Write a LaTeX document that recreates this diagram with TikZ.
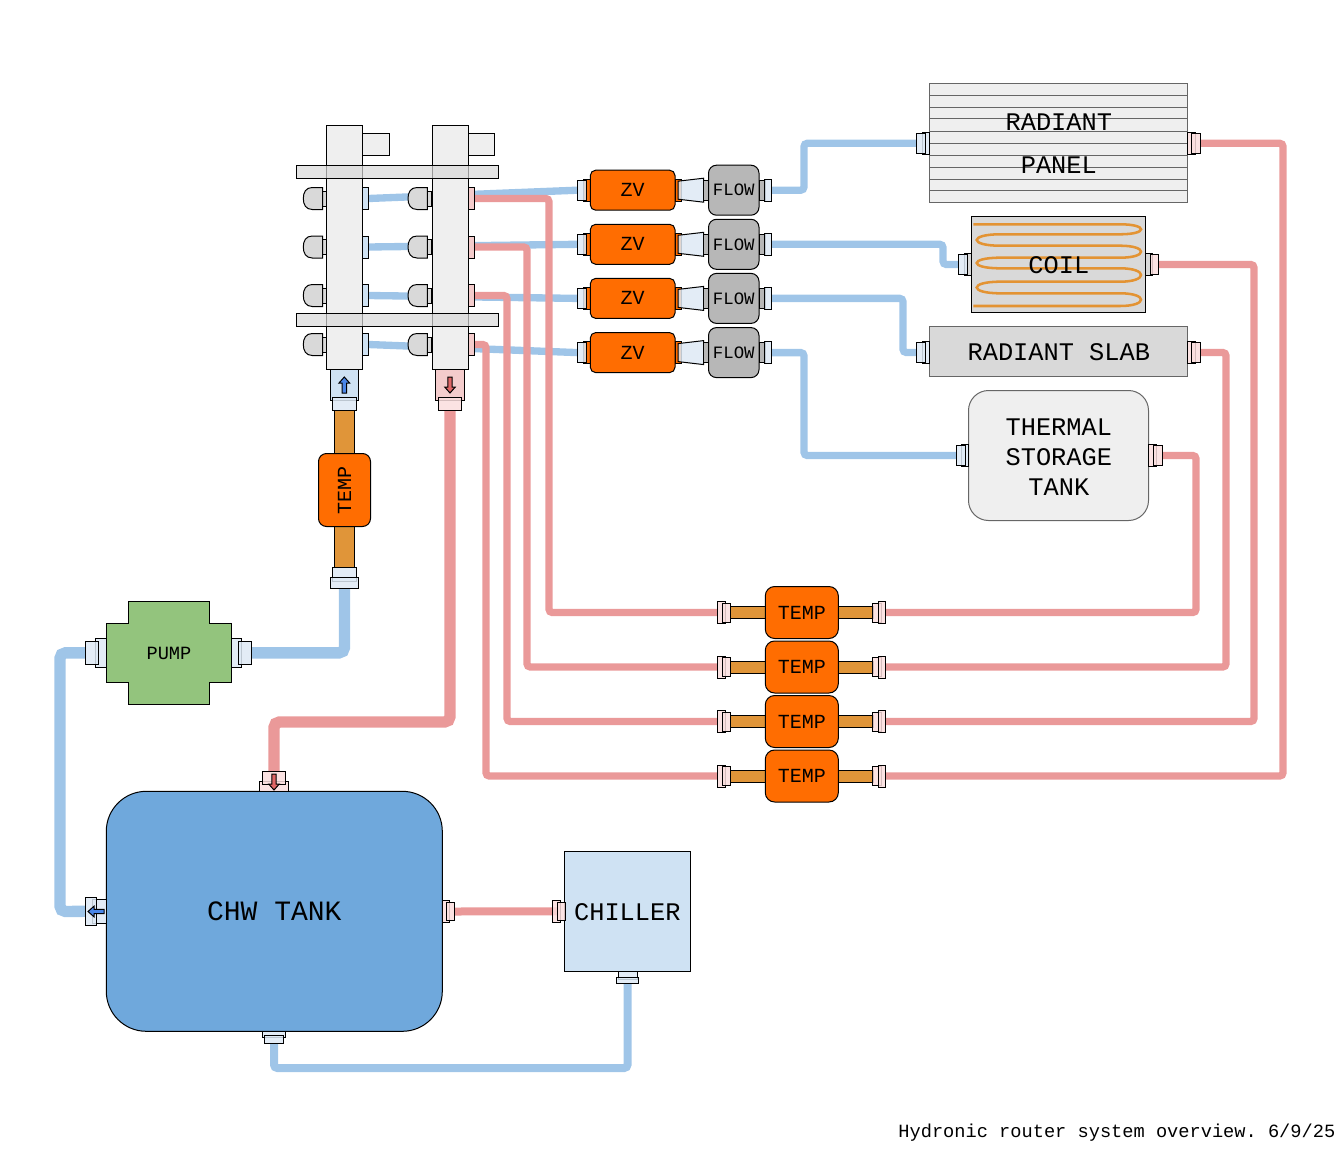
\documentclass[tikz,border=0pt]{standalone}
\usepackage{fontspec}
\setmainfont{Liberation Mono}
\usepackage{xcolor}
\usetikzlibrary{backgrounds}
\definecolor{pipeblue}{HTML}{9FC5E8}
\definecolor{pipered}{HTML}{EA9999}
\definecolor{pipebrown}{HTML}{E09539}
\definecolor{valveor}{HTML}{FF6D01}
\definecolor{tankblue}{HTML}{6FA8DC}
\definecolor{paleblue}{HTML}{CFE2F3}
\definecolor{fitblue}{HTML}{DEE9F5}
\definecolor{palered}{HTML}{F4CCCC}
\definecolor{fitred}{HTML}{FADEDE}
\definecolor{pumpgreen}{HTML}{93C47D}
\definecolor{light}{HTML}{EFEFEF}
\definecolor{midgray}{HTML}{D9D9D9}
\definecolor{flowgray}{HTML}{B7B7B7}
\definecolor{arrowblue}{HTML}{4A86E8}
\definecolor{arrowred}{HTML}{E06666}
\tikzset{
  part/.style={draw=black, line width=0.75pt, inner sep=0pt, outer sep=0pt, rectangle},
  fitb/.style={part, fill=fitblue, fill opacity=0.85},
  fitr/.style={part, fill=fitred, fill opacity=0.85},
  stubg/.style={part, fill=midgray},
  stubf/.style={part, fill=flowgray},
  stubo/.style={part, fill=pipebrown},
  valve/.style={part, fill=valveor, rounded corners=4pt, font=\fontsize{15}{18}\selectfont},
  flowbox/.style={part, fill=flowgray, rounded corners=6pt, font=\fontsize{13}{16}\selectfont},
  tempbox/.style={part, fill=valveor, rounded corners=7pt, font=\fontsize{15}{18}\selectfont},
  grayedge/.style={draw=black!60},
  big/.style={align=center, font=\fontsize{19}{22.5}\selectfont},
  bluepipe/.style={draw=pipeblue, line width=5.5pt, rounded corners=2.5pt},
  redpipe/.style={draw=pipered, line width=5.5pt, rounded corners=2.5pt},
  mainblue/.style={draw=pipeblue, line width=8.5pt, rounded corners=4pt},
  mainred/.style={draw=pipered, line width=8.5pt, rounded corners=4pt},
  flowarrow/.pic={
    \path[pic actions] (0,-8)--(5.3,-2)--(2.2,-2)--(2.2,8)--(-2.2,8)--(-2.2,-2)--(-5.3,-2)--cycle;
  },
}
% box given by its corners in reference pixels
\newcommand{\partbox}[7]{\node[#1, minimum width={((#5)-(#3))*0.75pt}, minimum height={((#6)-(#4))*0.75pt}] (#2) at ({((#3)+(#5))/2},{((#4)+(#6))/2}) {#7};}

\begin{document}
\frenchspacing
\begin{tikzpicture}[x=0.75pt,y=-0.75pt]
  \useasboundingbox (0,0) rectangle (1344,1152);

  % manifold bars
  \partbox{part,fill=light}{tabl}{362.3}{134}{389.5}{156}{}
  \partbox{part,fill=light}{tabr}{468.3}{134}{494.5}{156}{}
  \partbox{part,fill=light}{barl}{326.3}{125.3}{362.3}{369.5}{}
  \partbox{part,fill=light}{barr}{432.3}{125.3}{468.3}{369.5}{}
  \foreach \r/\y in {a/198.5,b/247,c/295.5,d/344.5} {
    \partbox{part,fill=paleblue}{portl\r}{362.3}{\y-11}{368.6}{\y+11}{}
    \partbox{part,fill=palered}{portr\r}{468.3}{\y-11}{474.6}{\y+11}{}
    \foreach \x/\s in {303.3/l,408/r} {
      \begin{scope}[shift={(\x,\y)}]
        \draw[part,fill=midgray] (19.4,-7.5) rectangle (23.2,7.5);
        \draw[part,fill=midgray] (19.4,-11) -- (9,-11) .. controls (2.5,-11) and (0,-6) .. (0,0)
          .. controls (0,6) and (2.5,11) .. (9,11) -- (19.4,11) -- cycle;
      \end{scope}
    }
  }
  \partbox{part,fill=midgray,fill opacity=0.7}{raila}{296.5}{165.5}{498.5}{178}{}
  \partbox{part,fill=midgray,fill opacity=0.7}{railb}{296.5}{313.5}{498.5}{326}{}

  % manifold outlets
  \partbox{part,fill=paleblue}{outl}{330.3}{369.5}{358.3}{400.7}{}
  \partbox{fitb}{collarl}{332.3}{397.3}{356.7}{410.7}{}
  \pic[draw=black,fill=arrowblue,line width=0.75pt] at (344.3,385) {flowarrow};
  \partbox{part,fill=palered}{outr}{435.3}{369.5}{464.7}{400.7}{}
  \partbox{fitr}{collarr}{438.3}{397.3}{461.7}{410.7}{}
  \pic[draw=black,fill=arrowred,line width=0.75pt,rotate=180] at (450,385) {flowarrow};
  \partbox{stubo}{supply}{334.3}{410.7}{354.7}{567.3}{}
  \partbox{tempbox,rounded corners=6pt}{tempv}{318.5}{453.5}{370.5}{526.5}{\rotatebox{90}{TEMP}}
  \partbox{fitb}{collarv}{332.3}{567.3}{356.7}{581.7}{}
  \partbox{fitb}{pumpfeed}{330.3}{577.3}{358.7}{588.3}{}

  % zone valves and flow meters
  \foreach \r/\y in {a/190.2,b/244.3,c/298.4,d/352.6} {
    \partbox{part,fill=valveor}{zvback\r}{583.3}{\y-11}{590.3}{\y+11}{}
    \partbox{fitb}{zvin\r}{577.3}{\y-10}{586.7}{\y+10}{}
    \partbox{part,fill=valveor}{zvrear\r}{675}{\y-11}{681.7}{\y+11}{}
    \draw[part,fill=fitblue,fill opacity=0.85] (678,\y-9) -- (703.7,\y-12) -- (703.7,\y+12) -- (678,\y+9) -- cycle;
    \partbox{stubf}{flowst\r}{703.7}{\y-10}{708.7}{\y+10}{}
    \partbox{valve}{zv\r}{590.3}{\y-20}{675}{\y+20}{ZV}
    \partbox{flowbox}{flow\r}{708.5}{\y-25}{759}{\y+25}{FLOW}
    \partbox{stubf}{flowrear\r}{759}{\y-10}{765}{\y+10}{}
    \partbox{fitb}{flowout\r}{764.3}{\y-11}{771.7}{\y+11}{}
  }

  % return temperature sensors
  \foreach \r/\y in {a/612.5,b/667,c/721.5,d/776} {
    \partbox{stubo}{stubl\r}{730.7}{\y-6}{765.3}{\y+6}{}
    \partbox{stubo}{stubr\r}{838.3}{\y-6}{873}{\y+6}{}
    \partbox{fitr}{tempin\r}{717.3}{\y-11}{725}{\y+11}{}
    \partbox{fitr}{tempinb\r}{722.7}{\y-9.5}{730.7}{\y+9.5}{}
    \partbox{fitr}{tempoutb\r}{872.3}{\y-9.5}{881.7}{\y+9.5}{}
    \partbox{fitr}{tempout\r}{878.3}{\y-11}{885.7}{\y+11}{}
    \partbox{tempbox}{temp\r}{765.3}{\y-26}{838.3}{\y+26}{TEMP}
  }

  % loads
  \partbox{part,fill=light,grayedge}{panel}{929.3}{83.3}{1187.3}{202.3}{}
  \foreach \y in {95.3,107.3,118.3,131.3,143.3,155.3,167.3,179.3,190.3}
    \draw[black!60,line width=0.75pt] (929.3,\y) -- (1187.3,\y);
  \node[big,font=\fontsize{19}{32.25}\selectfont] (panellab) at (1058.8,144) {RADIANT\\PANEL};
  \partbox{fitb}{panelinb}{922.3}{132.3}{929.3}{154.3}{}
  \partbox{fitb}{panelin}{916.3}{133.3}{925.7}{153.3}{}
  \partbox{fitr}{paneloutb}{1187.3}{132.3}{1195}{154.3}{}
  \partbox{fitr}{panelout}{1191}{133.3}{1200.3}{153.3}{}

  \partbox{part,fill=midgray}{coil}{971.3}{216.7}{1145.3}{312.3}{}
  \draw[pipebrown!90!orange,line width=1.9pt] (973.3,224.3) -- (1120,224.3)
    .. controls (1148,224.3) and (1148,234.3) .. (1120,234.3) -- (1000,234.3)
    .. controls (969,234.3) and (969,245.7) .. (1000,245.7) -- (1120,245.7)
    .. controls (1148,245.7) and (1148,257.7) .. (1120,257.7) -- (1000,257.7)
    .. controls (969,257.7) and (969,268.3) .. (1000,268.3) -- (1120,268.3)
    .. controls (1148,268.3) and (1148,281.7) .. (1120,281.7) -- (1000,281.7)
    .. controls (969,281.7) and (969,293.3) .. (1000,293.3) -- (1120,293.3)
    .. controls (1148,293.3) and (1148,306) .. (1120,306) -- (973.3,306);
  \node[big] (coillab) at (1058.8,265.5) {COIL};
  \partbox{stubg}{coilinb}{964.3}{253.5}{971.3}{275.5}{}
  \partbox{fitb}{coilin}{958.3}{254.5}{967.7}{274.5}{}
  \partbox{stubg}{coiloutb}{1145.3}{253.5}{1152.7}{275.5}{}
  \partbox{fitr}{coilout}{1150.3}{254.5}{1158.3}{274.5}{}

  \partbox{part,fill=midgray,grayedge}{slab}{929.3}{326.5}{1187.3}{376.5}{}
  \node[big] (slablab) at (1058.8,352.5) {RADIANT SLAB};
  \partbox{fitb}{slabinb}{922.3}{341.5}{929.3}{363.5}{}
  \partbox{fitb}{slabin}{916.3}{342.5}{925.7}{362.5}{}
  \partbox{fitr}{slaboutb}{1187.3}{341.5}{1195}{363.5}{}
  \partbox{fitr}{slabout}{1191}{342.5}{1200.3}{362.5}{}

  \partbox{part,fill=light,grayedge,rounded corners=15pt}{store}{968.5}{390.5}{1148.5}{520.5}{}
  \node[big] (storelab) at (1058.8,457) {THERMAL\\STORAGE\\TANK};
  \partbox{fitb}{storeinb}{961.3}{444.5}{968.5}{466.5}{}
  \partbox{fitb}{storein}{956.5}{445.5}{965.7}{465.5}{}
  \partbox{fitr}{storeoutb}{1148.5}{444.5}{1156}{466.5}{}
  \partbox{fitr}{storeout}{1153}{445.5}{1162}{465.5}{}

  % pump
  \draw[part,fill=pumpgreen] (128.3,601.3) -- (209.3,601.3) -- (209.3,623.3) -- (231.7,623.3)
    -- (231.7,682.3) -- (209.3,682.3) -- (209.3,704.3) -- (128.3,704.3) -- (128.3,682.3)
    -- (106.3,682.3) -- (106.3,623.3) -- (128.3,623.3) -- cycle;
  \node[font=\fontsize{14}{17}\selectfont] (pump) at (169,653.5) {PUMP};
  \partbox{fitb}{pumprb}{231.7}{638.3}{241.7}{667.3}{}
  \partbox{fitb}{pumpr}{238.3}{641}{251.7}{664.7}{}
  \partbox{fitb}{pumplb}{95.3}{638.3}{106.3}{667.3}{}
  \partbox{fitb}{pumpl}{85.3}{641}{98.3}{664.7}{}

  % chilled water tank
  \partbox{part,fill=tankblue,rounded corners=30pt}{tank}{106.3}{791.3}{442.3}{1031.3}{}
  \node[font=\fontsize{21}{25}\selectfont] (tanklab) at (274.3,911.5) {CHW TANK};
  \partbox{fitr}{tanktopb}{259.3}{781.3}{288.7}{791.3}{}
  \partbox{fitr}{tanktop}{262.3}{771.3}{285.7}{784.3}{}
  \pic[draw=black,fill=arrowred,line width=0.75pt,rotate=180] at (274,782) {flowarrow};
  \partbox{fitb}{tankleftb}{92.3}{899.3}{106.3}{923.3}{}
  \partbox{fitb}{tankleft}{85.3}{897.3}{96.7}{925.3}{}
  \pic[draw=black,fill=arrowblue,line width=0.75pt,rotate=90] at (96,911.5) {flowarrow};
  \partbox{fitr}{tankrightb}{442.3}{900.3}{449}{922.3}{}
  \partbox{fitr}{tankright}{446.3}{902.3}{454.7}{920.7}{}
  \partbox{fitb}{tankbotb}{262.3}{1031.3}{285.7}{1037.3}{}
  \partbox{fitb}{tankbot}{264.3}{1035.3}{283.7}{1043.3}{}

  % chiller
  \partbox{part,fill=paleblue}{chiller}{564.3}{851.5}{690.5}{971.3}{}
  \node[big] (chillerlab) at (627.3,912) {CHILLER};
  \partbox{fitr}{chillinb}{552.3}{900.3}{560}{922.7}{}
  \partbox{fitr}{chillin}{557.3}{902.3}{565.7}{920.3}{}
  \partbox{fitb}{chilloutb}{618.3}{971.3}{637}{979.3}{}
  \partbox{fitb}{chillout}{616.3}{977.3}{638.7}{983.3}{}

  \node[anchor=east,font=\fontsize{14}{17}\selectfont] (caption) at (1340,1133) {Hydronic router system overview. 6/9/25};

  % pipes go under everything
  \begin{scope}[on background layer]
    \foreach \r in {a,b,c,d} \draw[bluepipe] (portl\r.east) -- (zvin\r.west);
    \draw[bluepipe] (flowouta.east) -| (804,143.3) -- (panelin.west);
    \draw[bluepipe] (flowoutb.east) -| (943,264.5) -- (coilin.west);
    \draw[bluepipe] (flowoutc.east) -| (903,352.5) -- (slabin.west);
    \draw[bluepipe] (flowoutd.east) -| (804,455.5) -- (storein.west);
    \draw[redpipe] (portra.east) -| (549,612.5) -- (tempina.west);
    \draw[redpipe] (portrb.east) -| (527,667) -- (tempinb.west);
    \draw[redpipe] (portrc.east) -| (507,721.5) -- (tempinc.west);
    \draw[redpipe] (portrd.east) -| (486,776) -- (tempind.west);
    \draw[redpipe] (panelout.east) -| (1283,776) -- (tempoutd.east);
    \draw[redpipe] (coilout.east) -| (1254,721.5) -- (tempoutc.east);
    \draw[redpipe] (slabout.east) -| (1226,667) -- (tempoutb.east);
    \draw[redpipe] (storeout.east) -| (1196,612.5) -- (tempouta.east);
    \draw[mainblue] (pumpfeed.south) |- (pumpr.east);
    \draw[mainblue] (pumpl.west) -| (60,911.5) -- (tankleft.west);
    \draw[mainred] (collarr.south) |- (274,722) -- (tanktop.north);
    \draw[redpipe,line width=6pt] (tankright.east) -- (chillin.west);
    \draw[bluepipe,line width=6pt] (tankbot.south) |- (627.5,1068) -- (chillout.south);
  \end{scope}
\end{tikzpicture}
\end{document}
